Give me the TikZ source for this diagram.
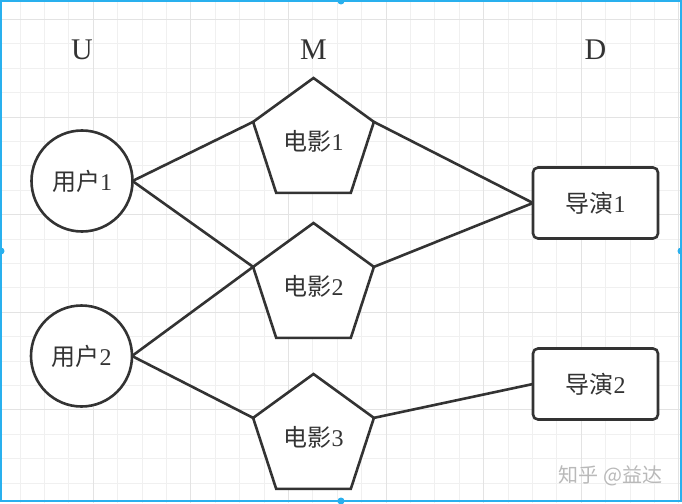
\documentclass[tikz,border=0pt]{standalone}
\usepackage{fontspec}
\setmainfont{Liberation Serif}
\newfontfamily\cjk{Noto Sans CJK SC}
\usetikzlibrary{shapes.geometric}
\definecolor{ink}{HTML}{333333}
\definecolor{selblue}{HTML}{29B0EE}
\definecolor{gridminor}{HTML}{F0F0F0}
\definecolor{gridmajor}{HTML}{E3E3E3}
\newcommand\zh[1]{{\cjk #1}}
\begin{document}
\begin{tikzpicture}[x=1pt,y=-1pt,
  edge/.style={draw=ink,line width=2.6pt},
  shapebase/.style={draw=ink,line width=2.6pt,fill=white,inner sep=0pt,outer sep=0pt,text=ink,font=\fontsize{24}{27}\selectfont},
  user/.style={shapebase,circle,minimum size=101pt},
  movie/.style={shapebase,regular polygon,regular polygon sides=5,minimum size=127pt},
  director/.style={shapebase,rectangle,rounded corners=5pt,minimum width=125pt,minimum height=71pt},
  head/.style={font=\fontsize{30}{32}\selectfont,text=ink},
  minor/.style={draw=gridminor,line width=1pt},
  major/.style={draw=gridmajor,line width=1pt}]
\useasboundingbox (0,0) rectangle (682,503);
\fill[white] (0,0) rectangle (682,503);
% grid
\foreach \i in {0,...,27} { \draw[minor] ({20+24.4*\i},0) -- ({20+24.4*\i},503); }
\foreach \i in {0,...,19} { \draw[minor] (0,{19.5+24.4*\i}) -- (682,{19.5+24.4*\i}); }
\foreach \i in {3,7,...,27} { \draw[major] ({20+24.4*\i},0) -- ({20+24.4*\i},503); }
\foreach \i in {0,4,...,16} { \draw[major] (0,{19.5+24.4*\i}) -- (682,{19.5+24.4*\i}); }
% headers
\node[head] (hu) at (82,50) {U};
\node[head] (hm) at (313.5,50) {M};
\node[head] (hd) at (595.5,50) {D};
% nodes
\node[user] (u1) at (82,181) {\zh{用户}1};
\node[user] (u2) at (81.5,356) {\zh{用户}2};
\node[movie] (m1) at (313.5,141.5) {\zh{电影}1};
\node[movie] (m2) at (313.5,286.5) {\zh{电影}2};
\node[movie] (m3) at (313.5,437.5) {\zh{电影}3};
\node[director] (d1) at (595.5,203) {\zh{导演}1};
\node[director] (d2) at (595.5,384) {\zh{导演}2};
% edges
\draw[edge] (u1.east) -- (m1.corner 2);
\draw[edge] (u1.east) -- (m2.corner 2);
\draw[edge] (u2.east) -- (m2.corner 2);
\draw[edge] (u2.east) -- (m3.corner 2);
\draw[edge] (m1.corner 5) -- (d1.west);
\draw[edge] (m2.corner 5) -- (d1.west);
\draw[edge] (m3.corner 5) -- (d2.west);
% watermark
\node[font=\cjk\fontsize{20}{22}\selectfont,text=gray!55] (wm) at (610.5,476) {知乎 @益达};
% selection frame
\draw[selblue,line width=2pt] (1,1) rectangle (681,501);
\fill[selblue] (341,1) circle (3.5pt);
\fill[selblue] (1,251) circle (3.5pt);
\fill[selblue] (681,251) circle (3.5pt);
\fill[selblue] (341,501) circle (3.5pt);
\end{tikzpicture}
\end{document}
